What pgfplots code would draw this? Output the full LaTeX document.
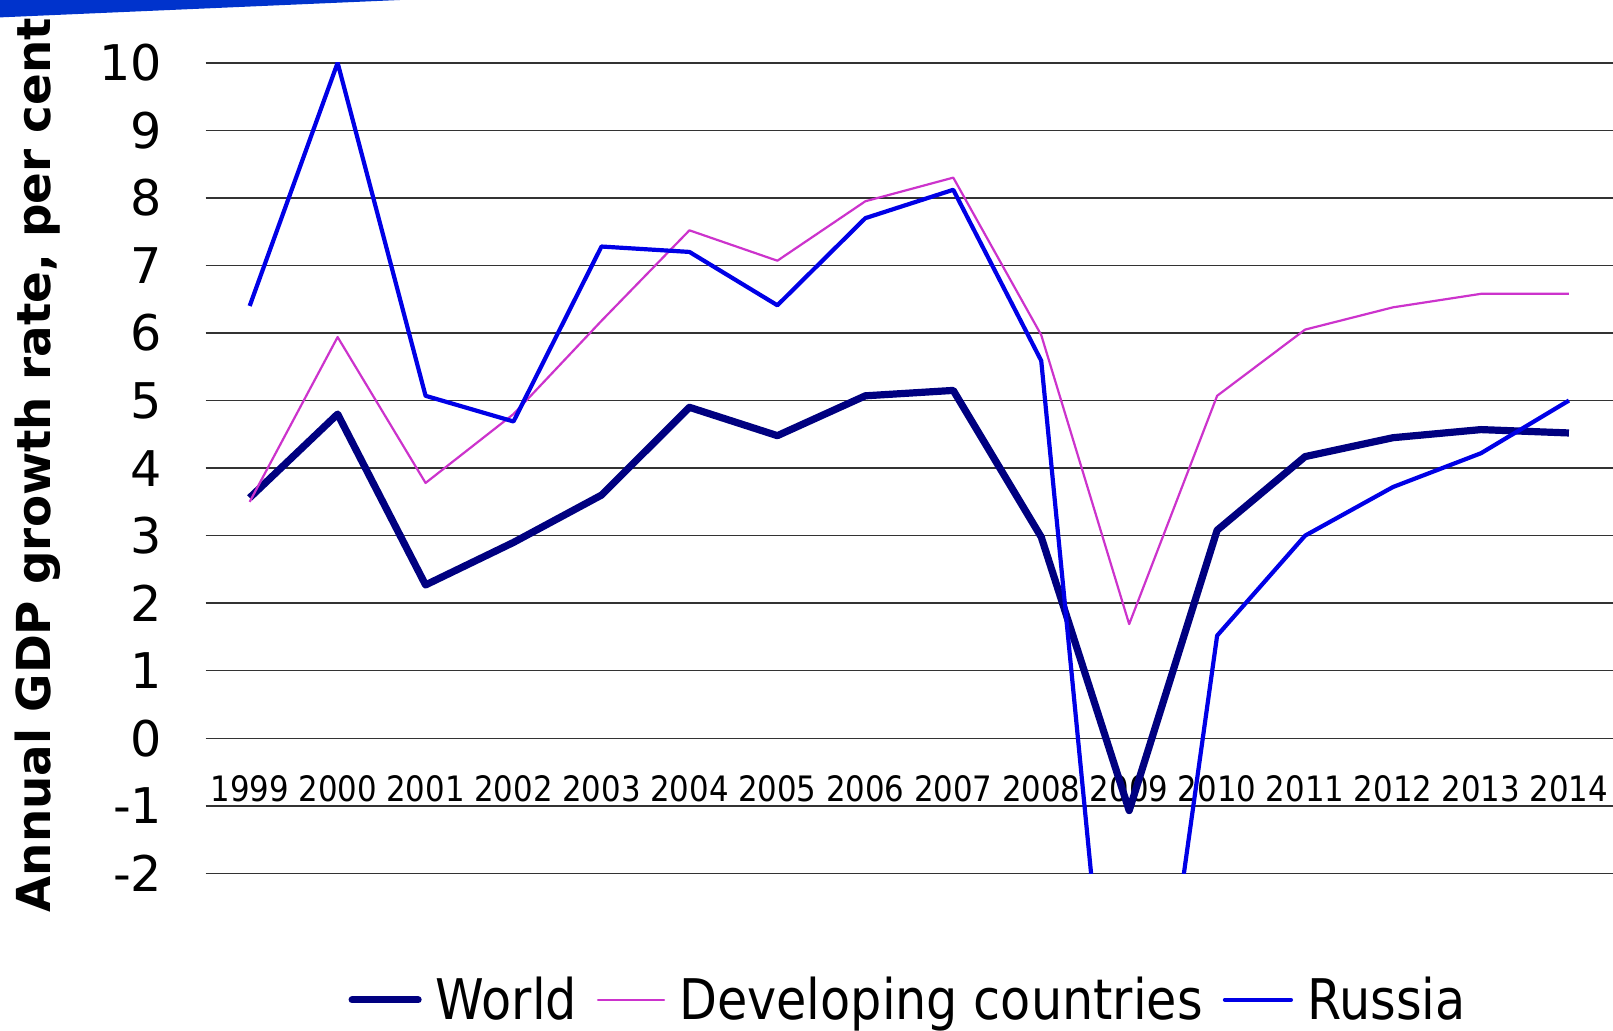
\documentclass[border=0pt]{standalone}
\usepackage{fontspec}
\setmainfont{DejaVu Sans}
\newfontfamily\cond[FakeStretch=0.88]{DejaVu Sans}
\usepackage{pgfplots}
\pgfplotsset{compat=1.18}
\definecolor{worldc}{RGB}{0,0,128}
\definecolor{devc}{RGB}{204,51,204}
\definecolor{rusc}{RGB}{0,0,230}
\definecolor{wedgec}{RGB}{0,51,204}
\begin{document}
\begin{tikzpicture}
\useasboundingbox (0,0) rectangle (806.5pt,-515.5pt);
\begin{axis}[
  at={(102.85pt,-436.7pt)}, anchor=south west,
  scale only axis, width=703.6pt, height=405.3pt,
  xmin=1998.5, xmax=2014.5, ymin=-2, ymax=10,
  xtick={1999,2000,2001,2002,2003,2004,2005,2006,2007,2008,2009,2010,2011,2012,2013,2014},
  xticklabels={1999,2000,2001,2002,2003,2004,2005,2006,2007,2008,2009,2010,2011,2012,2013,2014},
  ytick={-2,-1,0,1,2,3,4,5,6,7,8,9,10},
  yticklabels={-2,-1,0,1,2,3,4,5,6,7,8,9,10},
  axis line style={draw=none},
  major tick length=0pt,
  ymajorgrids,
  grid style={black!80, line width=0.75pt},
  x tick label style={font=\cond\fontsize{17.5}{20}\selectfont, anchor=center, inner sep=0pt, yshift=42.2pt},
  y tick label style={font=\fontsize{24.6}{28}\selectfont, anchor=east, inner sep=0pt, xshift=-21.6pt},
  ylabel={Annual GDP growth rate, per cent},
  every axis y label/.style={at={(axis description cs:-0.1192,0.5035)}, rotate=90, anchor=center, font=\fontsize{23.4}{28}\selectfont\bfseries},
  legend columns=3,
  legend style={at={(axis description cs:0.4991,-0.1560)}, anchor=center, draw=none, fill=none,
    font=\cond\fontsize{28}{32}\selectfont, inner sep=0pt,
    nodes={inner sep=1pt},
    /tikz/every odd column/.append style={column sep=6pt},
    /tikz/every even column/.append style={column sep=9pt}},
  legend image code/.code={\draw[#1, line cap=round] (0pt,0pt) -- (33pt,0pt);},
  clip=true,
]
\addplot[worldc, line width=3.6pt, line join=round] coordinates {
(1999,3.56) (2000,4.8) (2001,2.27) (2002,2.9) (2003,3.6) (2004,4.9) (2005,4.48) (2006,5.07)
(2007,5.15) (2008,2.98) (2009,-1.07) (2010,3.08) (2011,4.17) (2012,4.45) (2013,4.57) (2014,4.52)};
\addlegendentry{World}
\addplot[devc, line width=1.1pt, line join=round] coordinates {
(1999,3.5) (2000,5.94) (2001,3.78) (2002,4.8) (2003,6.18) (2004,7.52) (2005,7.07) (2006,7.95)
(2007,8.3) (2008,5.97) (2009,1.69) (2010,5.07) (2011,6.05) (2012,6.38) (2013,6.58) (2014,6.58)};
\addlegendentry{Developing countries}
\addplot[rusc, line width=2.1pt, line join=round] coordinates {
(1999,6.4) (2000,10.0) (2001,5.07) (2002,4.69) (2003,7.28) (2004,7.2) (2005,6.41) (2006,7.7)
(2007,8.12) (2008,5.59) (2009,-7.8) (2010,1.52) (2011,3.0) (2012,3.72) (2013,4.22) (2014,5.0)};
\addlegendentry{Russia}
\end{axis}
\fill[wedgec] (0pt,0pt) -- (200pt,0pt) -- (0pt,-8.7pt) -- cycle;
\end{tikzpicture}
\end{document}
